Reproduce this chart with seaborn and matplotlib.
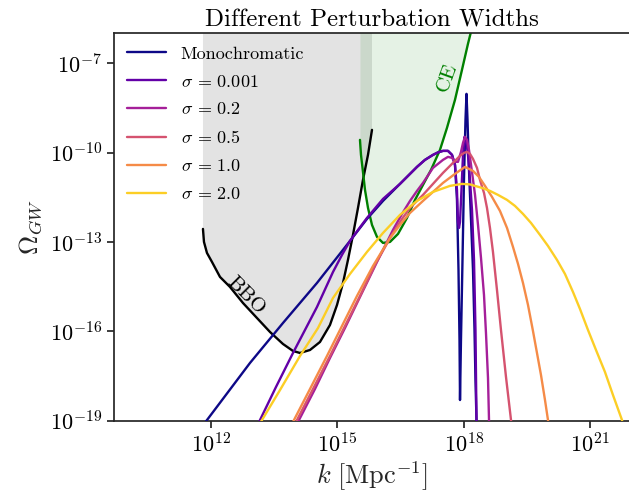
import numpy as np
import seaborn as sns
import matplotlib.pyplot as plt

# all values are log10(k / Mpc^-1) and log10(Omega_GW)
mono_logk = [11.74, 11.912, 12.932, 13.715, 14.522, 15.305, 15.708, 16.088, 16.491, 16.895,
             17.084, 17.274, 17.393, 17.511, 17.630, 17.725, 17.796, 17.843, 17.879, 17.903,
             17.915, 17.938, 17.974, 18.009, 18.045, 18.069, 18.093, 18.128, 18.176, 18.223,
             18.259, 18.282, 18.306, 18.318]
mono_logom = [-19.3, -18.978, -17.063, -15.721, -14.377, -12.967, -12.229, -11.624, -11.053, -10.482,
              -10.247, -10.079, -9.995, -9.945, -9.945, -10.079, -10.415, -11.590, -13.940, -16.291,
              -18.306, -16.291, -13.605, -10.919, -8.904, -8.031, -8.904, -10.583, -12.262, -13.940,
              -15.955, -17.634, -18.978, -19.65]

s0001_logk = [13.06, 13.170, 13.549, 13.953, 14.522, 14.902, 15.115, 15.305, 15.495, 15.708,
              16.088, 16.491, 16.895, 17.084, 17.274, 17.393, 17.511, 17.630, 17.725, 17.796,
              17.843, 17.867, 17.891, 17.915, 17.950, 17.986, 18.021, 18.057, 18.104, 18.152,
              18.199, 18.247, 18.282, 18.306, 18.318]
s0001_logom = [-19.3, -18.978, -17.869, -16.727, -15.183, -14.008, -13.437, -12.967, -12.598, -12.195,
               -11.557, -11.053, -10.482, -10.247, -10.079, -9.995, -9.945, -9.945, -10.079, -10.415,
               -11.255, -12.33, -12.531, -12.33, -11.255, -10.079, -9.475, -9.576, -10.079, -10.919,
               -11.926, -13.605, -15.955, -18.978, -19.65]

s02_logk = [13.98, 14.095, 14.474, 14.830, 15.186, 15.542, 15.946, 16.325, 16.539, 16.729,
            16.895, 17.037, 17.274, 17.511, 17.630, 17.725, 17.796, 17.867, 17.938, 17.986,
            18.033, 18.081, 18.128, 18.199, 18.271, 18.342, 18.413, 18.484, 18.531, 18.579,
            18.603, 18.626]
s02_logom = [-19.3, -18.978, -17.937, -16.895, -15.889, -14.847, -13.672, -12.598, -12.060, -11.624,
             -11.288, -11.020, -10.516, -10.247, -10.146, -10.180, -10.314, -10.314, -9.979, -9.677,
             -9.475, -9.576, -9.911, -10.650, -11.422, -12.430, -13.538, -14.780, -16.056, -17.567,
             -18.978, -19.65]

s05_logk = [13.93, 14.047, 14.427, 14.830, 15.186, 15.542, 15.922, 16.325, 16.539, 16.729,
            17.037, 17.274, 17.511, 17.748, 17.915, 18.009, 18.081, 18.152, 18.223, 18.318,
            18.389, 18.484, 18.555, 18.626, 18.697, 18.792, 18.887, 19.006, 19.125, 19.172]
s05_logom = [-19.3, -18.978, -17.937, -16.828, -15.821, -14.814, -13.706, -12.699, -12.228, -11.859,
             -11.422, -11.053, -10.684, -10.348, -10.113, -10.012, -9.979, -10.046, -10.214, -10.516,
             -10.919, -11.355, -11.859, -12.531, -13.337, -14.612, -15.955, -17.534, -18.978, -19.65]

s10_logk = [13.86, 13.976, 14.356, 14.759, 15.115, 15.471, 15.851, 16.254, 16.491, 16.729,
            17.037, 17.274, 17.511, 17.796, 18.033, 18.223, 18.365, 18.508, 18.674, 18.863,
            19.030, 19.172, 19.291, 19.409, 19.528, 19.646, 19.741, 19.836, 19.931, 20.002, 20.050]
s10_logom = [-19.3, -18.978, -17.937, -16.828, -15.821, -14.814, -13.807, -12.867, -12.430, -12.027,
             -11.624, -11.322, -11.020, -10.717, -10.482, -10.617, -10.818, -11.120, -11.490, -11.960,
             -12.531, -13.169, -13.739, -14.377, -15.116, -15.989, -16.727, -17.466, -18.306, -18.978, -19.65]

s20_logk = [13.08, 13.217, 13.645, 14.119, 14.546, 14.902, 15.305, 15.708, 16.088, 16.491,
            16.895, 17.274, 17.677, 17.962, 18.152, 18.271, 18.437, 18.626, 18.816, 19.030,
            19.219, 19.409, 19.599, 19.813, 20.002, 20.216, 20.405, 20.595, 20.761, 20.951,
            21.141, 21.354, 21.544, 21.758, 21.83]
s20_logom = [-19.3, -18.978, -17.970, -16.828, -15.889, -14.881, -14.075, -13.336, -12.699, -12.094,
             -11.624, -11.322, -11.120, -11.053, -11.070, -11.120, -11.187, -11.288, -11.422, -11.590,
             -11.792, -12.060, -12.363, -12.766, -13.135, -13.605, -14.075, -14.679, -15.250, -15.955,
             -16.627, -17.365, -18.138, -18.978, -19.65]

bbo_logk = [11.817, 11.841, 11.912, 12.031, 12.221, 12.458, 12.766, 13.098, 13.407, 13.715,
            13.953, 14.119, 14.356, 14.593, 14.830, 14.997, 15.139, 15.257, 15.376, 15.495,
            15.613, 15.732, 15.827]
bbo_logom = [-12.564, -13.001, -13.370, -13.672, -14.175, -14.511, -15.049, -15.553, -16.022, -16.425,
             -16.660, -16.727, -16.627, -16.358, -15.788, -15.116, -14.377, -13.605, -12.766, -11.859,
             -10.919, -10.079, -9.240]

ce_logk = [15.542, 15.566, 15.613, 15.661, 15.732, 15.827, 15.946, 16.088, 16.254, 16.444,
           16.657, 16.847, 17.037, 17.227, 17.440, 17.606, 17.796, 17.962, 18.104, 18.199]
ce_logom = [-9.576, -10.079, -10.650, -11.255, -11.859, -12.430, -12.833, -13.034, -13.001, -12.732,
            -12.195, -11.590, -11.087, -10.583, -9.911, -9.173, -8.232, -7.225, -6.352, -5.815]

curves = [
    ('Monochromatic', mono_logk, mono_logom),
    (r'$\sigma\,=\,0.001$', s0001_logk, s0001_logom),
    (r'$\sigma\,=\,0.2$', s02_logk, s02_logom),
    (r'$\sigma\,=\,0.5$', s05_logk, s05_logom),
    (r'$\sigma\,=\,1.0$', s10_logk, s10_logom),
    (r'$\sigma\,=\,2.0$', s20_logk, s20_logom),
]
colors = plt.get_cmap('plasma')(np.linspace(0, 0.9, len(curves)))

sns.set_style('ticks')
plt.rcParams['font.family'] = 'serif'
plt.rcParams['font.serif'] = ['cmr10']
plt.rcParams['mathtext.fontset'] = 'cm'
plt.rcParams['axes.formatter.use_mathtext'] = True
plt.rcParams['text.color'] = 'black'

fig = plt.figure(figsize=(6.29, 4.98), dpi=100)
ax = fig.add_axes([0.1812, 0.1552, 0.8188, 0.7779])
ax.set_xscale('log')
ax.set_yscale('log')

def p10(v):
    return 10.0 ** np.array(v)

# detector sensitivity regions
ax.fill_between(p10(bbo_logk), p10(bbo_logom), 1.0, color='gray', alpha=0.22, lw=0, zorder=1)
ax.fill_between(p10(ce_logk), p10(ce_logom), 1.0, color='green', alpha=0.1, lw=0, zorder=1)
sns.lineplot(x=p10(bbo_logk), y=p10(bbo_logom), color='black', lw=1.7, sort=False,
             estimator=None, ax=ax, zorder=2, solid_joinstyle='round')
sns.lineplot(x=p10(ce_logk), y=p10(ce_logom), color='green', lw=1.7, sort=False,
             estimator=None, ax=ax, zorder=2, solid_joinstyle='round')

for (lab, lk, lo), c in zip(curves, colors):
    sns.lineplot(x=p10(lk), y=p10(lo), color=c, lw=1.7, label=lab, sort=False,
                 estimator=None, ax=ax, zorder=3, solid_joinstyle='round')

ax.text(10**12.84, 10**-14.81, 'BBO', rotation=-45, fontsize=15,
        ha='center', va='center', rotation_mode='anchor')
ax.text(10**17.61, 10**-7.47, 'CE', rotation=70, fontsize=15, color='green',
        ha='center', va='center', rotation_mode='anchor')

ax.set_xlim(10**9.706, 10**21.924)
ax.set_ylim(1e-19, 1e-6)
ax.set_xticks([1e12, 1e15, 1e18, 1e21])
ax.set_yticks([1e-19, 1e-16, 1e-13, 1e-10, 1e-7])
ax.minorticks_off()
ax.tick_params(labelsize=16, length=5, width=1.25, colors='.15', labelcolor='black')
ax.spines['right'].set_visible(False)
for s in ['left', 'bottom', 'top']:
    ax.spines[s].set_linewidth(1.25)

ax.set_xlabel(r'$k\ [\mathrm{Mpc}^{-1}]$', fontsize=19, labelpad=2)
ax.set_ylabel(r'$\Omega_{GW}$', fontsize=19, labelpad=4)
ax.set_title('Different Perturbation Widths', fontsize=18, pad=5)
ax.legend(loc='upper left', frameon=False, fontsize=13, handlelength=2.2,
          labelspacing=0.66, borderaxespad=0.3)

fig.savefig('out.png', dpi=100)
